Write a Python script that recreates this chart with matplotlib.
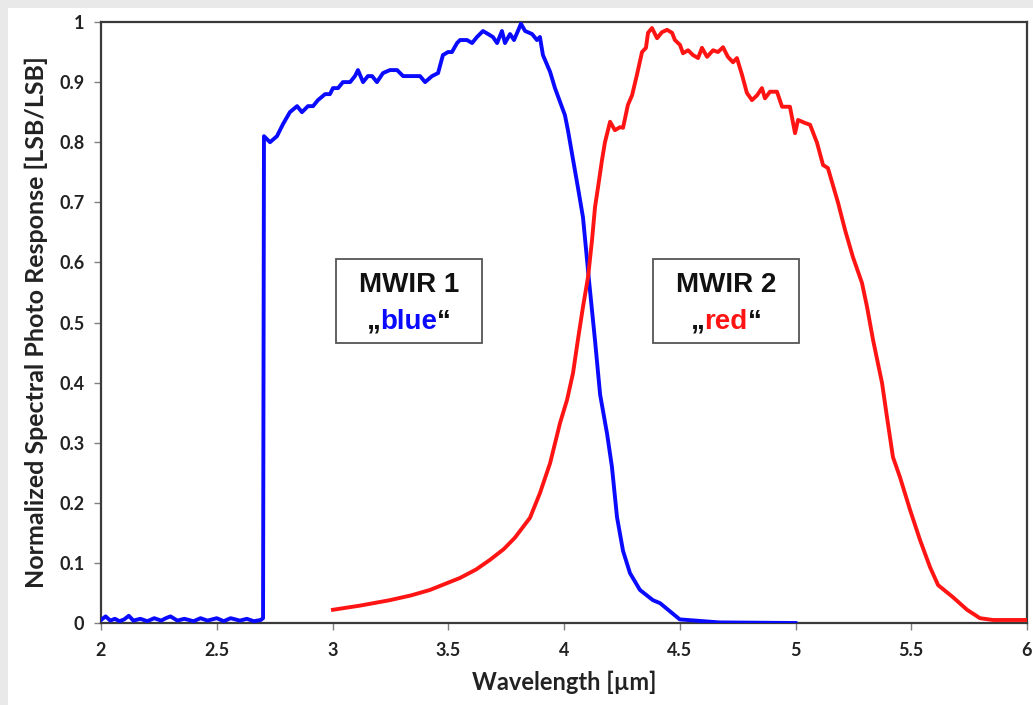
import matplotlib
matplotlib.use('Agg')
from matplotlib import pyplot as plt
from matplotlib.patches import Rectangle

# MWIR 1 "blue" channel response
blue_x = [2.0, 2.02, 2.04, 2.06, 2.08, 2.10, 2.12, 2.14, 2.17, 2.20, 2.23, 2.26, 2.28, 2.30,
          2.33, 2.36, 2.40, 2.43, 2.46, 2.50, 2.53, 2.56, 2.60, 2.63, 2.66, 2.69, 2.70,
          2.704, 2.730, 2.760, 2.786, 2.816, 2.847, 2.868, 2.894, 2.916, 2.937, 2.968, 2.989,
          3.002, 3.024, 3.045, 3.076, 3.097, 3.110, 3.132, 3.153, 3.171, 3.192, 3.218, 3.248,
          3.279, 3.305, 3.335, 3.365, 3.378, 3.400, 3.430, 3.456, 3.477, 3.499, 3.516, 3.538,
          3.551, 3.581, 3.603, 3.624, 3.650, 3.672, 3.693, 3.711, 3.732, 3.745, 3.767, 3.784,
          3.801, 3.814, 3.832, 3.862, 3.883, 3.896, 3.909, 3.940, 3.961, 3.983, 4.004, 4.017,
          4.035, 4.060, 4.082, 4.108, 4.134, 4.156, 4.186, 4.207, 4.229, 4.255, 4.285, 4.328,
          4.384, 4.415, 4.50, 4.67, 5.0]
blue_y = [0.005, 0.011, 0.004, 0.007, 0.003, 0.006, 0.012, 0.004, 0.007, 0.003, 0.008, 0.004,
          0.008, 0.011, 0.004, 0.007, 0.003, 0.008, 0.004, 0.008, 0.003, 0.008, 0.004, 0.007,
          0.003, 0.005, 0.008,
          0.81, 0.80, 0.81, 0.83, 0.85, 0.86, 0.85, 0.86, 0.86, 0.87, 0.88, 0.88,
          0.89, 0.89, 0.90, 0.90, 0.91, 0.92, 0.90, 0.91, 0.91, 0.90, 0.915, 0.92,
          0.92, 0.91, 0.91, 0.91, 0.91, 0.90, 0.91, 0.915, 0.945, 0.95, 0.95, 0.965,
          0.97, 0.97, 0.965, 0.975, 0.985, 0.98, 0.975, 0.965, 0.985, 0.965, 0.98, 0.97,
          0.985, 0.997, 0.985, 0.98, 0.97, 0.975, 0.945, 0.917, 0.89, 0.867, 0.845, 0.82,
          0.78, 0.725, 0.675, 0.57, 0.47, 0.38, 0.315, 0.26, 0.176, 0.12, 0.083, 0.055,
          0.038, 0.033, 0.006, 0.001, 0.0]

# MWIR 2 "red" channel response
red_x = [3.002, 3.12, 3.248, 3.34, 3.421, 3.551, 3.62, 3.680, 3.74, 3.788, 3.853, 3.896, 3.940,
         3.983, 4.013, 4.039,
         4.060, 4.082, 4.104, 4.121, 4.134, 4.147, 4.164, 4.177, 4.199, 4.220, 4.242, 4.255,
         4.276, 4.294, 4.315, 4.337, 4.354, 4.363, 4.380, 4.402, 4.423, 4.445, 4.467, 4.479,
         4.501, 4.514, 4.536, 4.557, 4.579, 4.596, 4.618, 4.644, 4.665, 4.687, 4.708, 4.730,
         4.747, 4.769, 4.790, 4.812, 4.834, 4.855, 4.868, 4.890, 4.920, 4.942, 4.976, 4.998,
         5.011, 5.041, 5.063, 5.093, 5.119, 5.140, 5.184, 5.214, 5.248, 5.287, 5.309, 5.335,
         5.374, 5.395, 5.421, 5.451, 5.495, 5.538, 5.581, 5.616, 5.680, 5.741, 5.797, 5.853, 6.0]
red_y = [0.022, 0.029, 0.038, 0.046, 0.055, 0.075, 0.089, 0.105, 0.123, 0.142, 0.175, 0.216,
         0.266, 0.333, 0.371, 0.416,
         0.471, 0.526, 0.576, 0.637, 0.692, 0.725, 0.77, 0.80, 0.834, 0.82, 0.825, 0.824,
         0.862, 0.878, 0.912, 0.95, 0.957, 0.982, 0.99, 0.973, 0.983, 0.987, 0.982, 0.97,
         0.962, 0.948, 0.953, 0.945, 0.94, 0.957, 0.942, 0.953, 0.95, 0.958, 0.942, 0.933,
         0.94, 0.912, 0.882, 0.87, 0.878, 0.89, 0.873, 0.884, 0.884, 0.859, 0.859, 0.815,
         0.837, 0.832, 0.829, 0.799, 0.762, 0.757, 0.699, 0.654, 0.609, 0.566, 0.526, 0.471,
         0.399, 0.343, 0.276, 0.243, 0.188, 0.138, 0.093, 0.063, 0.043, 0.022, 0.008, 0.005, 0.005]

x_ticks = [2, 2.5, 3, 3.5, 4, 4.5, 5, 5.5, 6]
x_labels = ['2', '2.5', '3', '3.5', '4', '4.5', '5', '5.5', '6']
y_ticks = [0, 0.1, 0.2, 0.3, 0.4, 0.5, 0.6, 0.7, 0.8, 0.9, 1]
y_labels = ['0', '0.1', '0.2', '0.3', '0.4', '0.5', '0.6', '0.7', '0.8', '0.9', '1']

BLUE = '#0a0aff'
RED = '#ff1414'

fig = plt.figure(figsize=(10.33, 7.05), dpi=100)
fig.patch.set_facecolor('white')
# grey frame strips of the screenshot
fig.patches.append(Rectangle((0, 0), 8 / 1033, 1, transform=fig.transFigure,
                             facecolor='#e9e9e9', edgecolor='none', zorder=0))
fig.patches.append(Rectangle((0, 1 - 8 / 705), 1, 8 / 705, transform=fig.transFigure,
                             facecolor='#e9e9e9', edgecolor='none', zorder=0))

ax = fig.add_axes([101 / 1033, 1 - 623 / 705, 926 / 1033, 601 / 705])
ax.plot(blue_x, blue_y, color=BLUE, lw=2.8, solid_joinstyle='round', zorder=3)
ax.plot(red_x, red_y, color=RED, lw=2.8, solid_joinstyle='round', zorder=3)

ax.set_xlim(2, 6)
ax.set_ylim(0, 1)
ax.set_xticks(x_ticks)
ax.set_xticklabels(x_labels)
ax.set_yticks(y_ticks)
ax.set_yticklabels(y_labels)
for s in ax.spines.values():
    s.set_color('#3a3a3a')
    s.set_linewidth(1.6)
ax.tick_params(direction='out', length=5, width=1, color='#808080',
               labelsize=13, labelcolor='#222222')
ax.tick_params(axis='x', pad=9)
ax.tick_params(axis='y', pad=7)
for lab in ax.get_xticklabels() + ax.get_yticklabels():
    lab.set_fontfamily('Lato')
    lab.set_fontweight('bold')

ax.set_xlabel('Wavelength [µm]', fontsize=17, fontfamily='Lato', fontweight='bold',
              color='#222222', labelpad=8)
ax.set_ylabel('Normalized Spectral Photo Response [LSB/LSB]', fontsize=18,
              fontfamily='Lato', fontweight='bold', color='#222222', labelpad=8)


def label_box(x0, x1, title, word, color):
    # box in pixel coordinates converted to axes fractions
    bx0 = (x0 - 101) / 926
    bx1 = (x1 - 101) / 926
    by0 = (623 - 343) / 601
    by1 = (623 - 259) / 601
    ax.add_patch(Rectangle((bx0, by0), bx1 - bx0, by1 - by0, transform=ax.transAxes,
                           facecolor='white', edgecolor='#555555', lw=1.3, zorder=4))
    cx = (bx0 + bx1) / 2
    ax.text(cx, by0 + 0.69 * (by1 - by0), title, transform=ax.transAxes, ha='center',
            va='center', fontsize=20, fontweight='bold', fontfamily='Liberation Sans',
            color='#111111', zorder=5)
    # second line: quotes in black, word in colour
    fig.canvas.draw()
    r = fig.canvas.get_renderer()
    parts = [('\u201e', '#111111'), (word, color), ('\u201c', '#111111')]
    texts = []
    for s, c in parts:
        t = ax.text(0, 0, s, transform=ax.transAxes, fontsize=20, fontweight='bold',
                    fontfamily='Liberation Sans', color=c, va='baseline', ha='left', zorder=5)
        texts.append(t)
    widths = [t.get_window_extent(r).width for t in texts]
    total = sum(widths)
    ax_w = ax.get_window_extent(r).width
    start = cx - total / 2 / ax_w
    yy = by0 + 0.17 * (by1 - by0)
    for t, w in zip(texts, widths):
        t.set_position((start, yy))
        start += w / ax_w


label_box(336, 482, 'MWIR 1', 'blue', BLUE)
label_box(653, 799, 'MWIR 2', 'red', RED)

fig.savefig('out.png', dpi=100, facecolor=fig.get_facecolor())
